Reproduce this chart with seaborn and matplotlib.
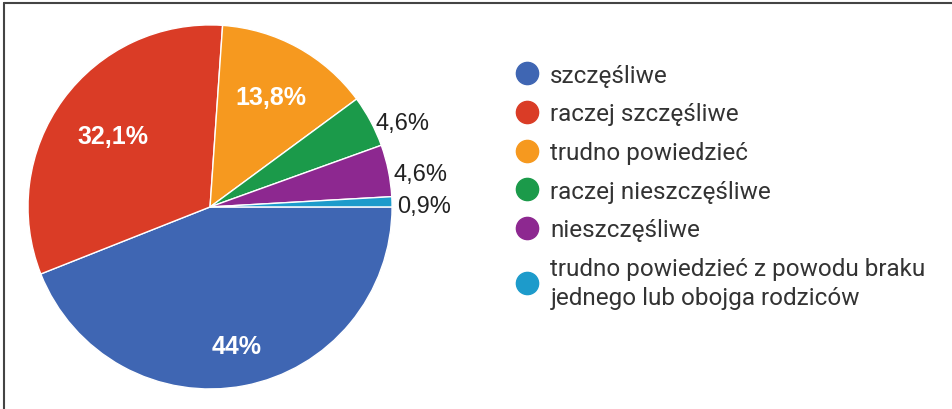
import matplotlib.pyplot as plt
import seaborn as sns
from matplotlib.lines import Line2D
import numpy as np

# data
categories = ["szczęśliwe", "raczej szczęśliwe", "trudno powiedzieć",
              "raczej nieszczęśliwe", "nieszczęśliwe",
              "trudno powiedzieć z powodu braku\njednego lub obojga rodziców"]
values = [44.0, 32.1, 13.8, 4.6, 4.6, 0.9]
pct_labels = ["44%", "32,1%", "13,8%", "4,6%", "4,6%", "0,9%"]
colors = ["#3F66B3", "#DA3C26", "#F6991F", "#1B9A4A", "#8D2890", "#1D9BCB"]

sns.set_theme(style="white")
plt.rcParams['font.family'] = ['Liberation Sans', 'DejaVu Sans']

fig = plt.figure(figsize=(9.53, 4.10), dpi=100)
ax = fig.add_axes([0.0294, 0.0488, 0.382, 0.888])

wedges, _ = ax.pie(values, colors=colors, startangle=0, counterclock=False,
                   wedgeprops=dict(edgecolor="white", linewidth=1))
ax.set_xlim(-1, 1)
ax.set_ylim(-1, 1)
ax.set_aspect("equal")

# percentage labels: big slices inside in white, small outside in black
inside_r = [0.78, 0.66, 0.69]
for i, w in enumerate(wedges):
    mid = np.deg2rad((w.theta1 + w.theta2) / 2)
    if i < 3:
        r = inside_r[i]
        ax.text(r * np.cos(mid), r * np.sin(mid), pct_labels[i], color="white",
                fontsize=18, fontweight="semibold", ha="center", va="center")
    else:
        r = 1.03
        ax.text(r * np.cos(mid), r * np.sin(mid) - 0.025, pct_labels[i], color="#222222",
                fontsize=17, ha="left", va="center")

handles = [Line2D([], [], marker="o", ls="", color=c, markersize=16) for c in colors]
leg = fig.legend(handles, categories, loc="upper left", bbox_to_anchor=(0.515, 0.895),
                 frameon=False, labelspacing=0.64, handletextpad=0.35,
                 handlelength=1.2, prop={"family": ["Roboto", "DejaVu Sans"], "size": 17.5})
for t in leg.get_texts():
    t.set_color("#333333")
    t.set_linespacing(1.35)

# frame lines on top and left like the screenshot
fig.add_artist(Line2D([4 / 953, 1], [1 - 4 / 410, 1 - 4 / 410], color="#444444", lw=1.5,
                      transform=fig.transFigure))
fig.add_artist(Line2D([4 / 953, 4 / 953], [0, 1 - 4 / 410], color="#444444", lw=1.5,
                      transform=fig.transFigure))

fig.savefig("out.png", dpi=100)
